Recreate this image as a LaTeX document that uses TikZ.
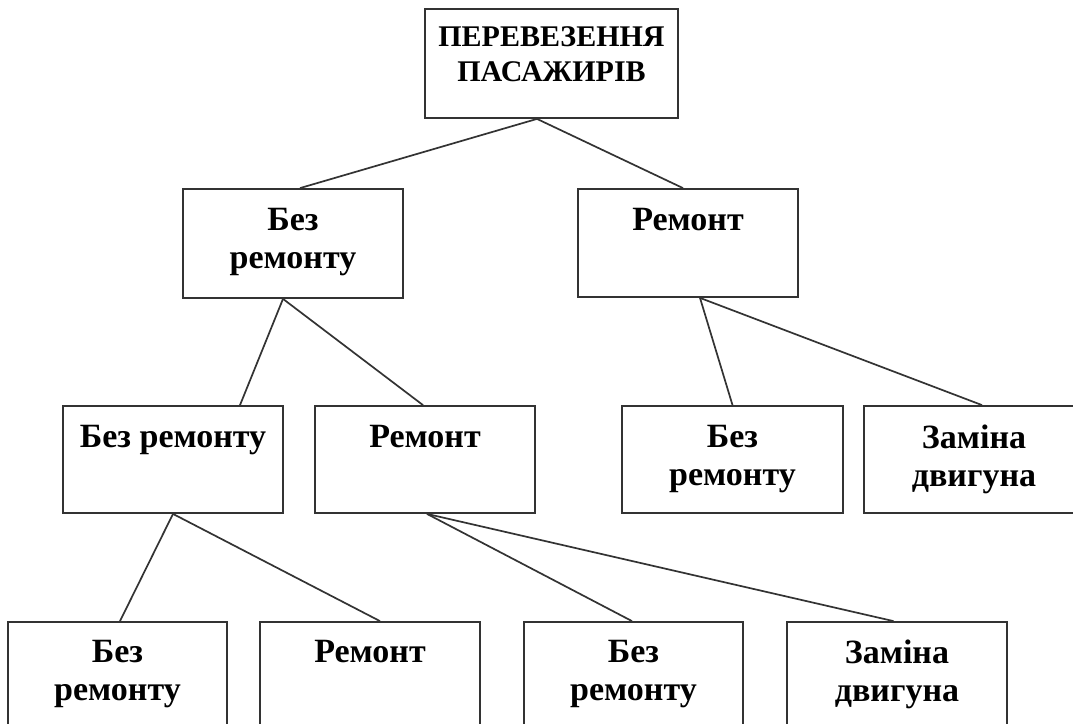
\documentclass[tikz,border=0pt]{standalone}
\usepackage{fontspec}
\setmainfont{Liberation Serif}
\begin{document}
\begin{tikzpicture}[x=1pt,y=-1pt,
  box/.style={draw=black!80, line width=1.8pt, minimum height=107pt, inner sep=0pt},
  lbl/.style={font=\fontsize{34}{38}\selectfont\bfseries, align=center, inner sep=0pt, anchor=north},
  toplbl/.style={font=\fontsize{30}{35}\selectfont\bfseries, align=center, inner sep=0pt, anchor=north},
  link/.style={draw=black!80, line width=1.7pt}]
\useasboundingbox (0,0) rectangle (1073,723);
\clip (0,0) rectangle (1073,723);
\fill[white] (0,0) rectangle (1073,723);

% boxes
\node[box, minimum width=253pt, minimum height=109pt] (root) at (551.5,63.5) {};
\node[box, minimum width=220pt, minimum height=109pt] (A) at (293,243.5) {};
\node[box, minimum width=220pt, minimum height=108pt] (B) at (688,243) {};
\node[box, minimum width=220pt] (C) at (173,459.5) {};
\node[box, minimum width=220pt] (D) at (425,459.5) {};
\node[box, minimum width=221pt] (E) at (732.5,459.5) {};
\node[box, minimum width=220pt] (F) at (974,459.5) {};
\node[box, minimum width=219pt, minimum height=108pt] (G) at (117.5,676) {};
\node[box, minimum width=220pt, minimum height=108pt] (H) at (370,676) {};
\node[box, minimum width=219pt, minimum height=108pt] (I) at (633.5,676) {};
\node[box, minimum width=220pt, minimum height=108pt] (J) at (897,676) {};

% labels
\node[toplbl] (troot) at ([yshift=-18pt]root.north) {ПЕРЕВЕЗЕННЯ\\ПАСАЖИРІВ};
\node[lbl] (tA) at ([yshift=-19.5pt]A.north) {Без\\ремонту};
\node[lbl] (tB) at ([yshift=-19.5pt]B.north) {Ремонт};
\node[lbl] (tC) at ([yshift=-19.5pt]C.north) {Без ремонту};
\node[lbl] (tD) at ([yshift=-19.5pt]D.north) {Ремонт};
\node[lbl] (tE) at ([yshift=-19.5pt]E.north) {Без\\ремонту};
\node[lbl] (tF) at ([yshift=-19.5pt]F.north) {Заміна\\двигуна};
\node[lbl] (tG) at ([yshift=-19pt]G.north) {Без\\ремонту};
\node[lbl] (tH) at ([yshift=-19pt]H.north) {Ремонт};
\node[lbl] (tI) at ([yshift=-19pt]I.north) {Без\\ремонту};
\node[lbl] (tJ) at ([yshift=-19pt]J.north) {Заміна\\двигуна};

% connectors
\draw[link] ([xshift=-14.5pt]root.south) -- ([xshift=7pt]A.north);
\draw[link] ([xshift=-14.5pt]root.south) -- ([xshift=-5pt]B.north);
\draw[link] ([xshift=-10pt]A.south) -- ([xshift=67pt]C.north);
\draw[link] ([xshift=-10pt]A.south) -- ([xshift=-2pt]D.north);
\draw[link] ([xshift=12pt]B.south) -- (E.north);
\draw[link] ([xshift=12pt]B.south) -- ([xshift=8pt]F.north);
\draw[link] (C.south) -- ([xshift=2.5pt]G.north);
\draw[link] (C.south) -- ([xshift=10pt]H.north);
\draw[link] ([xshift=2pt]D.south) -- ([xshift=-1.5pt]I.north);
\draw[link] ([xshift=2pt]D.south) -- ([xshift=-3.5pt]J.north);
\end{tikzpicture}
\end{document}
